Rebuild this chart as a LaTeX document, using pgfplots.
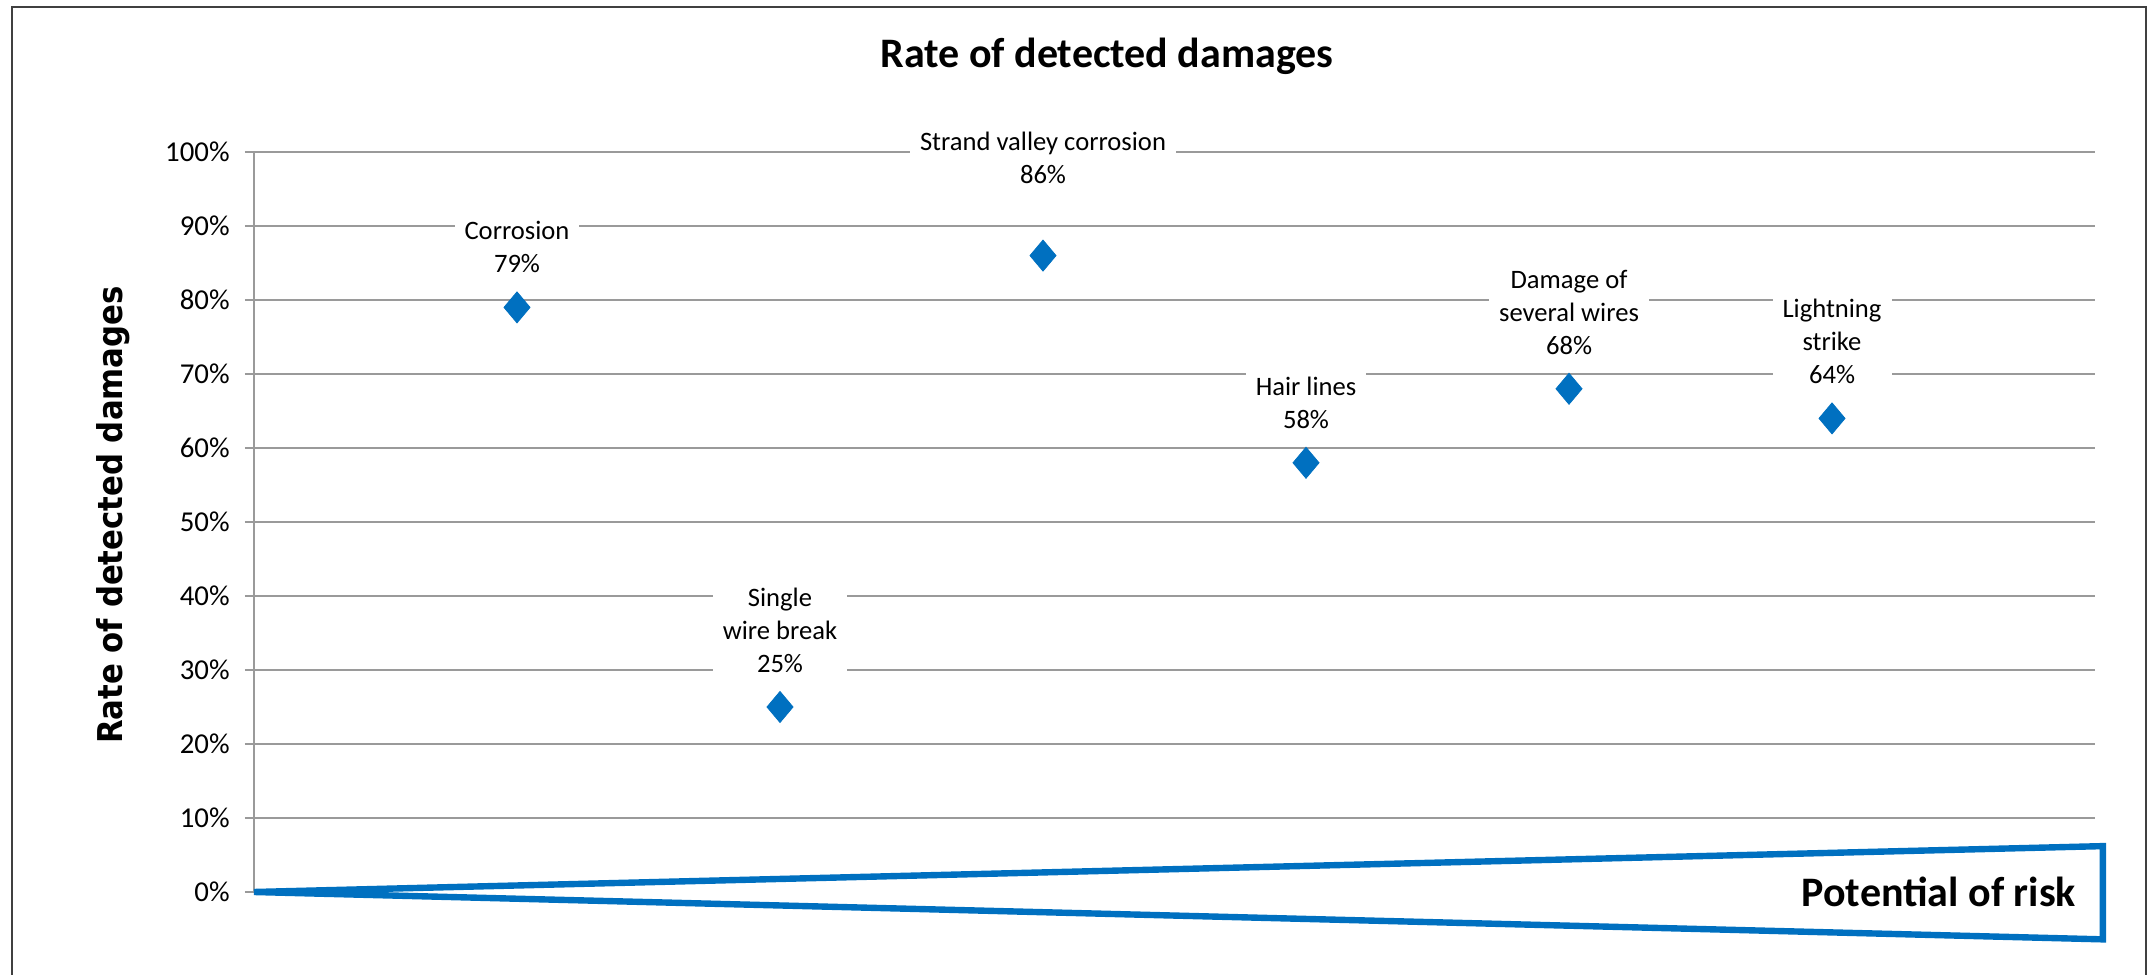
\documentclass[border=0pt]{standalone}
\usepackage{fontspec}
\setmainfont{Carlito}
\newfontfamily\dejavu{DejaVu Sans Condensed}
\usepackage{pgfplots}
\pgfplotsset{compat=1.18}
\definecolor{xblue}{HTML}{0070C0}
\definecolor{gridgray}{HTML}{9A9A9A}
\pgfplotsset{dmg/.style={only marks, mark=diamond*, mark size=7.75bp,
  mark options={xscale=1.12, fill=xblue, draw=xblue},
  nodes near coords={#1\\\pgfmathprintnumber{\pgfplotspointmeta}\%},
  every node near coord/.append style={anchor=south, yshift=14bp, fill=white, text=black,
    inner xsep=5bp, inner ysep=3bp, align=center, font=\fontsize{13.3bp}{16.5bp}\selectfont}}}
\begin{document}
\begin{tikzpicture}
\useasboundingbox (0bp,0bp) rectangle (1074bp,487.5bp);
\draw[line width=1bp, black!75] (6bp,-5bp) -- (6bp,484bp) -- (1073bp,484bp) -- (1073bp,-5bp);
\node[font=\fontsize{21bp}{25bp}\selectfont\bfseries, anchor=base] at (553.5bp,453.5bp) {Rate of detected damages};
\node[font=\dejavu\bfseries\fontsize{17.1bp}{20bp}\selectfont, rotate=90, anchor=base] at (61bp,230bp) {Rate of detected damages};
\begin{axis}[at={(127bp,41.5bp)}, anchor=origin, scale only axis,
  width=920.5bp, height=370bp,
  xmin=0, xmax=7, ymin=0, ymax=100,
  axis x line=none, axis y line=left,
  axis line style={-, draw=gridgray, line width=0.7bp},
  xtick=\empty, ytick={0,10,...,100},
  ymajorgrids, grid style={gridgray, line width=0.8bp},
  tick align=outside, major tick length=4.5bp,
  tick style={gridgray, line width=0.7bp},
  yticklabel={\pgfmathprintnumber{\tick}\%},
  yticklabel style={font=\fontsize{14.4bp}{17bp}\selectfont, inner sep=0pt, xshift=-7.5bp},
  /pgf/number format/assume math mode=true,
  clip=false]
\addplot[xblue, fill=white, line width=3.2bp, line join=miter, no markers] coordinates {(0,0) (7.03,6.2) (7.03,-6.4) (0,0)};
\addplot[dmg={Corrosion}] coordinates {(1,79)};
\addplot[dmg={Single\\wire break}] coordinates {(2,25)};
\addplot[dmg={Strand valley corrosion}, every node near coord/.append style={yshift=18.85bp}] coordinates {(3,86)};
\addplot[dmg={Hair lines}] coordinates {(4,58)};
\addplot[dmg={Damage of\\several wires}] coordinates {(5,68)};
\addplot[dmg={Lightning\\strike}] coordinates {(6,64)};
\end{axis}
\node[font=\fontsize{21bp}{25bp}\selectfont\bfseries, anchor=base east] at (1041.5bp,34.5bp) {Potential of risk};
\end{tikzpicture}
\end{document}
